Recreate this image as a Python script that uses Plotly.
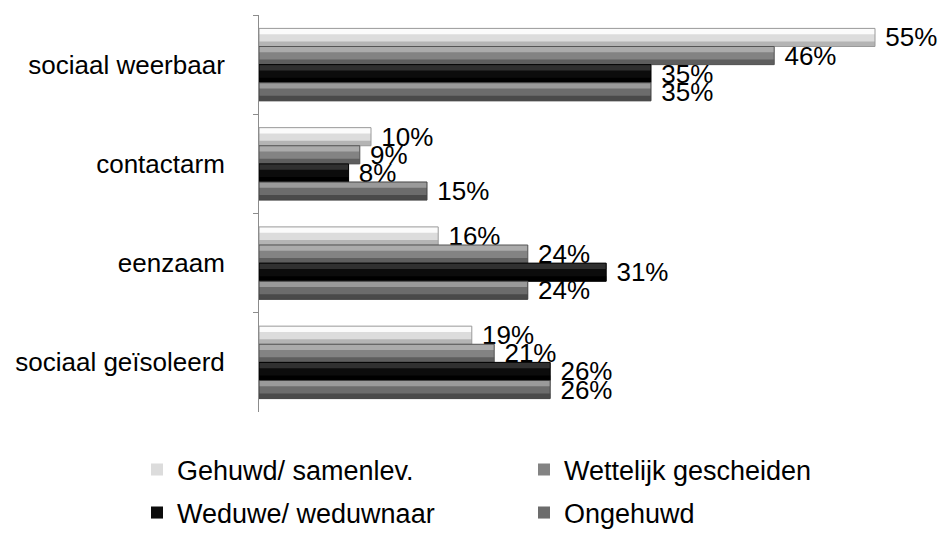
import plotly.graph_objects as go

categories = ["sociaal weerbaar", "contactarm", "eenzaam", "sociaal geïsoleerd"]
series_names = ["Gehuwd/ samenlev.", "Wettelijk gescheiden", "Weduwe/ weduwnaar", "Ongehuwd"]
gehuwd = [55, 10, 16, 19]
gescheiden = [46, 9, 24, 21]
weduwe = [35, 8, 31, 26]
ongehuwd = [35, 15, 24, 26]
values = [gehuwd, gescheiden, weduwe, ongehuwd]

# (top highlight, middle, bottom shade, outline) per series
shades = [
    ("#fbfbfb", "#dcdcdc", "#b4b4b4", "#9a9a9a"),
    ("#ababab", "#838383", "#5e5e5e", "#555555"),
    ("#303030", "#0c0c0c", "#000000", "#000000"),
    ("#9a9a9a", "#6c6c6c", "#4a4a4a", "#444444"),
]
legend_ids = ["legend", "legend", "legend2", "legend2"]

FONT = "Liberation Sans, Arial, sans-serif"
GROUP = 0.73
BAR_W = GROUP / 4
TOP_FRAC, BOT_FRAC = 0.32, 0.28

fig = go.Figure()
for i, (name, vals) in enumerate(zip(series_names, values)):
    off = -GROUP / 2 + i * BAR_W
    common = dict(y=categories, x=vals, name=name, orientation="h", cliponaxis=False)
    # full bar in middle tone, carries labels and legend entry
    fig.add_trace(go.Bar(
        **common, offset=off, width=BAR_W,
        marker=dict(color=shades[i][1], line=dict(width=0)),
        text=[f" {v}%" for v in vals], textposition="outside",
        textfont=dict(family=FONT, size=26, color="#000000"),
        constraintext="none", legend=legend_ids[i],
    ))
    # top highlight
    fig.add_trace(go.Bar(
        **common, offset=off, width=BAR_W * TOP_FRAC,
        marker=dict(color=shades[i][0], line=dict(width=0)),
        showlegend=False, hoverinfo="skip",
    ))
    # bottom shade
    fig.add_trace(go.Bar(
        **common, offset=off + BAR_W * (1 - BOT_FRAC), width=BAR_W * BOT_FRAC,
        marker=dict(color=shades[i][2], line=dict(width=0)),
        showlegend=False, hoverinfo="skip",
    ))
    # outline
    fig.add_trace(go.Bar(
        **common, offset=off, width=BAR_W,
        marker=dict(color="rgba(0,0,0,0)", line=dict(color=shades[i][3], width=1)),
        showlegend=False, hoverinfo="skip",
    ))

PLOT_L, PLOT_R, PLOT_T, PLOT_B = 259, 12, 15, 121
plot_w = 943 - PLOT_L - PLOT_R
plot_h = 533 - PLOT_T - PLOT_B
leg_x = (137 - PLOT_L) / plot_w
row1_y = (533 - PLOT_B - 470) / plot_h
row2_y = (533 - PLOT_B - 513) / plot_h

fig.update_layout(
    width=943, height=533,
    margin=dict(l=PLOT_L, r=PLOT_R, t=PLOT_T, b=PLOT_B, autoexpand=False),
    paper_bgcolor="white", plot_bgcolor="white",
    barmode="overlay",
    font=dict(family=FONT, size=26, color="#000000"),
    xaxis=dict(range=[0, 60], visible=False),
    yaxis=dict(autorange="reversed", showline=True, linecolor="#8c8c8c", linewidth=1,
               ticks="outside", tickson="boundaries", ticklen=5, tickcolor="#8c8c8c",
               ticklabelstandoff=28, showgrid=False,
               tickfont=dict(family=FONT, size=26, color="#000000")),
    legend=dict(orientation="h", x=leg_x, xanchor="left", y=row1_y, yanchor="middle",
                entrywidth=342, entrywidthmode="pixels",
                font=dict(family=FONT, size=27), bgcolor="rgba(0,0,0,0)"),
    legend2=dict(orientation="h", x=leg_x, xanchor="left", y=row2_y, yanchor="middle",
                 entrywidth=342, entrywidthmode="pixels",
                 font=dict(family=FONT, size=27), bgcolor="rgba(0,0,0,0)"),
)

fig.write_html("out.html", config={"displayModeBar": False},
               post_script="document.body.style.margin='0px';")
